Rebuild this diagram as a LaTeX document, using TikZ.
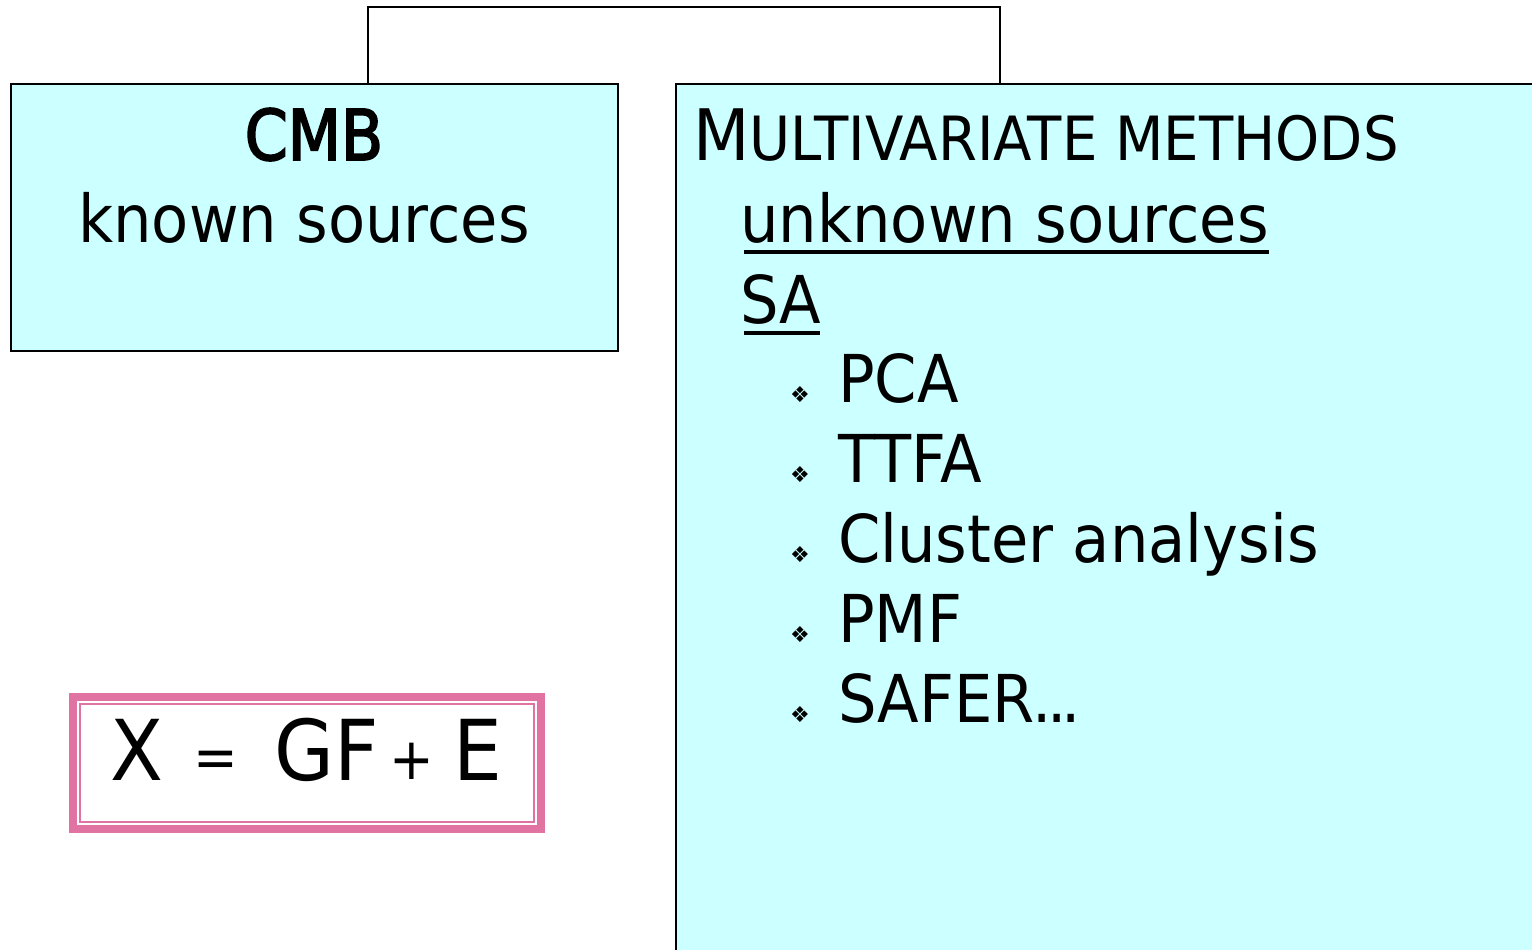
\documentclass[tikz,border=0pt]{standalone}
\usepackage{fontspec}
\setmainfont{DejaVu Sans}[FakeStretch=0.92]
\newfontfamily\heavyfont{DejaVu Sans}[FakeStretch=0.88, FakeBold=2.5]
\newfontfamily\bulletfont{DejaVu Sans}
\definecolor{boxcyan}{RGB}{204,255,255}
\definecolor{eqpink}{RGB}{225,115,162}
\newcommand{\fsz}[1]{\fontsize{#1}{#1}\selectfont}
\begin{document}
\begin{tikzpicture}[x=1pt,y=-1pt,
  txt/.style={inner sep=0pt, anchor=base west, font=\fsz{66}},
  ctxt/.style={inner sep=0pt, anchor=base},
  bul/.style={inner sep=0pt, anchor=center, font=\bulletfont\fsz{22}},
  boxst/.style={draw=black, line width=1.6pt, fill=boxcyan, anchor=north west, inner sep=0pt},
  link/.style={draw=black, line width=1.6pt},
  uline/.style={line width=3.5pt}
]
\useasboundingbox (0,0) rectangle (1532,950);
\clip (0,0) rectangle (1532,950);
\fill[white] (0,0) rectangle (1532,950);

% connector between the two boxes
\coordinate (jl) at (368,83);
\coordinate (jr) at (1000,83);
\coordinate (jt) at (368,7);
\draw[link] (jl) -- (jt) -| (jr);

% boxes
\node[boxst, minimum width=607pt, minimum height=267pt] (cmb) at (10,83) {};
\node[boxst, minimum width=900pt, minimum height=900pt] (mv) at (675,83) {};

% left box text
\node[ctxt, font=\heavyfont\fsz{70}] (cmbt) at (314,160) {CMB};
\node[ctxt, font=\fsz{66}] (known) at (304,242) {known sources};

% right box text
\node[txt] (mvt) at (693,160) {{\fsz{71}M}{\fsz{61}ULTIVARIATE METHODS}};
\node[txt] (unk) at (740,242) {unknown sources};
\draw[uline] ([xshift=4pt,yshift=-10pt]unk.base west) -- ([xshift=0pt,yshift=-10pt]unk.base east);
\node[txt] (sa) at (740,323) {SA};
\draw[uline] ([xshift=4pt,yshift=-10pt]sa.base west) -- ([xshift=-2pt,yshift=-10pt]sa.base east);

\node[bul] (b1) at (800,395) {❖};
\node[txt] (pca) at (838,402) {PCA};
\node[bul] (b2) at (800,475) {❖};
\node[txt] (ttfa) at (838,482) {TTFA};
\node[bul] (b3) at (800,555) {❖};
\node[txt] (clu) at (838,562) {Cluster analysis};
\node[bul] (b4) at (800,635) {❖};
\node[txt] (pmf) at (838,642) {PMF};
\node[bul] (b5) at (800,715) {❖};
\node[txt] (safer) at (838,722) {SAFER.\kern-5pt.\kern-5pt.};

% equation box
\draw[eqpink, line width=8pt, fill=white] (73,697) rectangle (541,829);
\draw[eqpink, line width=2pt] (80,704) rectangle (534,822);
\node[txt, font=\fsz{84}] (ex) at (110,780) {X};
\node[ctxt, font=\fsz{58}] (eqs) at (216,777) {=};
\node[txt, font=\fsz{84}] (gf) at (274,780) {GF};
\node[ctxt, font=\fsz{58}] (plus) at (412,779) {+};
\node[txt, font=\fsz{84}] (ee) at (453,780) {E};
\end{tikzpicture}
\end{document}
